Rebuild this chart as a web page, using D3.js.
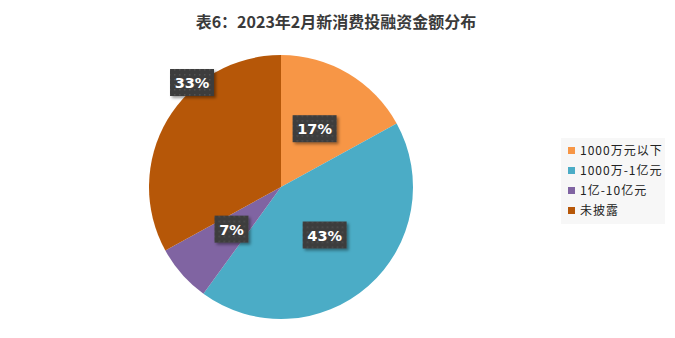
<!DOCTYPE html>
<html>
<head>
<meta charset="utf-8">
<script src="https://cdn.jsdelivr.net/npm/d3@7"></script>
<style>
  body { margin: 0; background: #fff; }
  svg { display: block; }
</style>
</head>
<body>
<svg id="chart" width="675" height="338"></svg>
<script>
// chart data
var categories = ["1000万元以下", "1000万-1亿元", "1亿-10亿元", "未披露"];
var shares = [17, 43, 7, 33];
var colors = ["#F79646", "#4BACC6", "#8064A2", "#B65708"];
var title = "表6：2023年2月新消费投融资金额分布";

var svg = d3.select("#chart");
var cx = 281, cy = 187, r = 132;

var defs = svg.append("defs");
var pat = defs.append("pattern").attr("id", "dots")
    .attr("width", 5).attr("height", 5).attr("patternUnits", "userSpaceOnUse");
pat.append("rect").attr("width", 5).attr("height", 5).attr("fill", "#3d3d3d");
pat.append("rect").attr("x", 2).attr("y", 2).attr("width", 1.5).attr("height", 1.5).attr("fill", "#515151");
var flt = defs.append("filter").attr("id", "shadow")
    .attr("x", "-30%").attr("y", "-30%").attr("width", "160%").attr("height", "160%");
flt.append("feDropShadow").attr("dx", 2).attr("dy", 2).attr("stdDeviation", 1.5)
    .attr("flood-color", "#000").attr("flood-opacity", 0.4);

// title
svg.append("text")
    .attr("x", 336).attr("y", 28)
    .attr("text-anchor", "middle")
    .attr("font-family", "'Noto Sans CJK SC', sans-serif")
    .attr("font-weight", "bold")
    .attr("font-size", 16)
    .attr("fill", "#3a3a3a")
    .text(title);

var pie = d3.pie().sort(null).value(function (d) { return d; });
var arcs = pie(shares);
var arc = d3.arc().innerRadius(0).outerRadius(r);
var labelArc = d3.arc().innerRadius(132).outerRadius(132);

var g = svg.append("g").attr("transform", "translate(" + cx + "," + cy + ")");
g.selectAll("path.slice")
    .data(arcs)
    .enter().append("path")
    .attr("class", "slice")
    .attr("d", arc)
    .attr("fill", function (d, i) { return colors[i]; });

// data labels (the last one sits near the edge, like Excel's best fit)
var lbl = g.selectAll("g.lbl")
    .data(arcs)
    .enter().append("g")
    .attr("class", "lbl")
    .attr("transform", function (d, i) {
        var c = labelArc.centroid(d);
        var x = c[0] * 0.5, y = c[1] * 0.5;
        if (i == 3) { x = -89; y = -103; }
        return "translate(" + x + "," + (y - 2) + ")";
    });
lbl.append("rect")
    .attr("x", function (d, i) { return i == 2 ? -17 : -22; })
    .attr("y", -13)
    .attr("width", function (d, i) { return i == 2 ? 34 : 44; })
    .attr("height", 27)
    .attr("fill", "url(#dots)")
    .attr("filter", "url(#shadow)");
lbl.append("text")
    .attr("text-anchor", "middle")
    .attr("y", 6)
    .attr("font-family", "'DejaVu Sans', sans-serif")
    .attr("font-weight", "bold")
    .attr("font-size", 14.5)
    .attr("fill", "#fff")
    .text(function (d) { return d.data + "%"; });

// legend
var legend = svg.append("g").attr("transform", "translate(561,138)");
legend.append("rect")
    .attr("width", 104).attr("height", 86)
    .attr("fill", "#f7f7f7");
var rows = legend.selectAll("g.row")
    .data(categories)
    .enter().append("g")
    .attr("class", "row")
    .attr("transform", function (d, i) { return "translate(7," + (13 + i * 20) + ")"; });
rows.append("rect")
    .attr("x", 0).attr("y", -4)
    .attr("width", 7).attr("height", 7)
    .attr("fill", function (d, i) { return colors[i]; });
rows.append("text")
    .attr("x", 12).attr("y", 4)
    .attr("font-family", "'Noto Sans CJK SC', sans-serif")
    .attr("font-size", 12)
    .attr("letter-spacing", 1)
    .attr("fill", "#222")
    .text(function (d) { return d; });
</script>
</body>
</html>
